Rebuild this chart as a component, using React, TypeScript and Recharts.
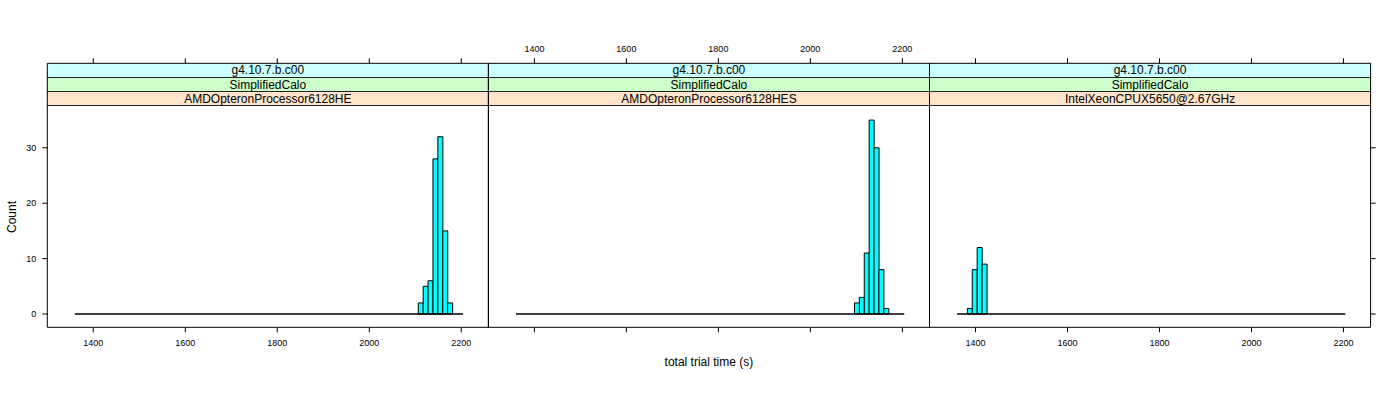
import React from 'react';
import { BarChart, Bar, XAxis, YAxis, ReferenceLine } from 'recharts';

const versionLabel = 'g4.10.7.b.c00';
const testLabel = 'SimplifiedCalo';
const cpuNames = ['AMDOpteronProcessor6128HE', 'AMDOpteronProcessor6128HES', 'IntelXeonCPUX5650@2.67GHz'];

// mid-points (s) of the non-empty bins and their counts, one pair per panel
const mids6128HE = [2111.83, 2122.48, 2133.13, 2143.78, 2154.43, 2165.08, 2175.73];
const counts6128HE = [2, 5, 6, 28, 32, 15, 2];
const mids6128HES = [2101.18, 2111.83, 2122.48, 2133.13, 2143.78, 2154.43, 2165.08];
const counts6128HES = [2, 3, 11, 35, 30, 8, 1];
const midsX5650 = [1387.63, 1398.28, 1408.93, 1419.58];
const countsX5650 = [1, 8, 12, 9];

// first and last break; the empty bins show up as a flat line at 0
const breakSpan = [1360, 2204];

const xTicks = [1400, 1600, 1800, 2000, 2200];
const yTicks = [0, 10, 20, 30];
const xDomain = [1300, 2259];
// upper end reaches the top of the strips so the top axis sits above them
const yDomain = [-2.4, 45.25];

const FONT = '"Liberation Sans", Arial, Helvetica, sans-serif';
const PANEL_LEFT = 47.3;
const PANEL_W = 441.1;
const BOX_TOP = 63.3;
const BOX_BOTTOM = 327.3;
const STRIP_EDGES = [63.3, 78, 92.3, 106.3];
const STRIP_COLORS = ['#ccffff', '#ccffcc', '#ffe5cc'];
const AXIS_H = 30;
const AXIS_W = 40;
const AXIS_W_RIGHT = 20;

const panels = [
  { name: cpuNames[0], mids: mids6128HE, counts: counts6128HE, bottomLabels: true, topLabels: false, leftTicks: true, rightTicks: false },
  { name: cpuNames[1], mids: mids6128HES, counts: counts6128HES, bottomLabels: false, topLabels: true, leftTicks: false, rightTicks: false },
  { name: cpuNames[2], mids: midsX5650, counts: countsX5650, bottomLabels: true, topLabels: false, leftTicks: false, rightTicks: true },
];

const blank = () => '';
const tickStyle = { fill: '#000', fontSize: 9 };

const Panel = ({ p, index }: { p: typeof panels[number]; index: number }) => {
  const left = PANEL_LEFT + index * PANEL_W;
  const data = p.mids.map((time, i) => ({ time, count: p.counts[i] }));
  return (
    <div style={{ position: 'absolute', left: 0, top: 0 }}>
      <BarChart
        width={1400}
        height={400}
        data={data}
        barCategoryGap={0}
        margin={{
          top: BOX_TOP - AXIS_H,
          bottom: 400 - BOX_BOTTOM - AXIS_H,
          left: left - AXIS_W,
          right: 1400 - left - PANEL_W - AXIS_W_RIGHT,
        }}
      >
        <XAxis
          xAxisId="bottom"
          type="number"
          dataKey="time"
          domain={xDomain}
          ticks={xTicks}
          allowDataOverflow
          interval={0}
          height={AXIS_H}
          stroke="#000"
          tickSize={5}
          tickMargin={7}
          tick={tickStyle}
          tickFormatter={p.bottomLabels ? undefined : blank}
        />
        <XAxis
          xAxisId="top"
          orientation="top"
          type="number"
          dataKey="time"
          domain={xDomain}
          ticks={xTicks}
          allowDataOverflow
          interval={0}
          height={AXIS_H}
          stroke="#000"
          tickSize={5}
          tickMargin={6}
          tick={tickStyle}
          tickFormatter={p.topLabels ? undefined : blank}
        />
        <YAxis
          yAxisId="left"
          type="number"
          domain={yDomain}
          ticks={yTicks}
          allowDataOverflow
          interval={0}
          width={AXIS_W}
          stroke="#000"
          tickSize={5}
          tickMargin={6}
          tickLine={p.leftTicks}
          tick={tickStyle}
          tickFormatter={p.leftTicks ? undefined : blank}
        />
        <YAxis
          yAxisId="right"
          orientation="right"
          type="number"
          domain={yDomain}
          ticks={yTicks}
          allowDataOverflow
          interval={0}
          width={AXIS_W_RIGHT}
          stroke="#000"
          tickSize={5}
          tickLine={p.rightTicks}
          tick={tickStyle}
          tickFormatter={blank}
        />
        <ReferenceLine
          xAxisId="bottom"
          yAxisId="left"
          segment={[{ x: breakSpan[0], y: 0 }, { x: breakSpan[1], y: 0 }]}
          stroke="#000"
          strokeWidth={1.5}
        />
        <Bar
          xAxisId="bottom"
          yAxisId="left"
          dataKey="count"
          fill="#00ffff"
          stroke="#000"
          strokeWidth={1}
          isAnimationActive={false}
        />
      </BarChart>
    </div>
  );
};

const App: React.FC = () => {
  const stripTexts = [versionLabel, testLabel];
  return (
    <div style={{ position: 'absolute', left: 0, top: 0, width: 1400, height: 400, background: '#fff', fontFamily: FONT }}>
      {/* strips under the charts so the panel borders stay on top */}
      {panels.map((p, i) =>
        STRIP_COLORS.map((col, r) => (
          <div
            key={`${i}-${r}`}
            style={{
              position: 'absolute',
              left: PANEL_LEFT + i * PANEL_W,
              top: STRIP_EDGES[r],
              width: PANEL_W,
              height: STRIP_EDGES[r + 1] - STRIP_EDGES[r],
              background: col,
              borderBottom: '1px solid #222',
              boxSizing: 'border-box',
              fontSize: 12,
              lineHeight: `${STRIP_EDGES[r + 1] - STRIP_EDGES[r]}px`,
              textAlign: 'center',
              color: '#000',
              whiteSpace: 'nowrap',
            }}
          >
            {r < 2 ? stripTexts[r] : p.name}
          </div>
        ))
      )}
      {panels.map((p, i) => (
        <Panel key={p.name} p={p} index={i} />
      ))}
      <div
        style={{
          position: 'absolute',
          left: 11.5,
          top: 217,
          transform: 'translate(-50%, -50%) rotate(-90deg)',
          fontSize: 12,
          lineHeight: '12px',
          whiteSpace: 'nowrap',
        }}
      >
        Count
      </div>
      <div
        style={{
          position: 'absolute',
          left: PANEL_LEFT + 1.5 * PANEL_W,
          top: 362,
          transform: 'translate(-50%, -50%)',
          fontSize: 12,
          lineHeight: '12px',
          whiteSpace: 'nowrap',
        }}
      >
        total trial time (s)
      </div>
    </div>
  );
};

export default App;
